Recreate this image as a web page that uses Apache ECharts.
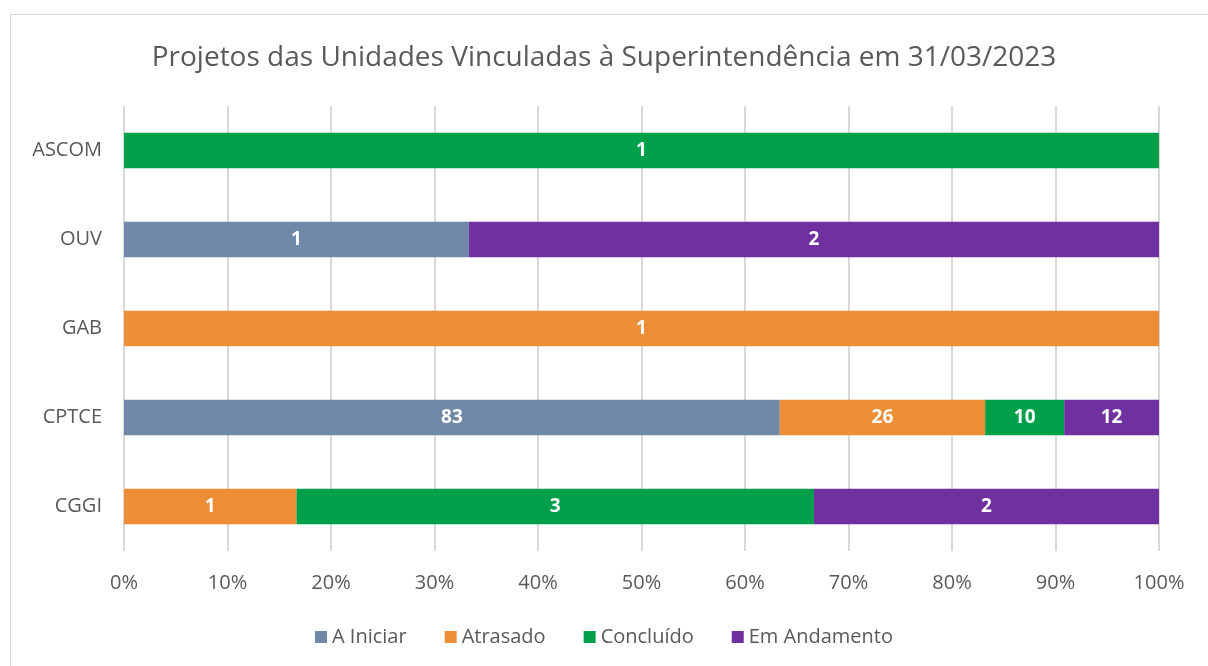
<!DOCTYPE html>
<html>
<head>
<meta charset="utf-8">
<script src="https://cdn.jsdelivr.net/npm/echarts@6/dist/echarts.min.js"></script>
<style>
  html, body { margin: 0; padding: 0; background: #fff; }
  #chart { width: 1208px; height: 666px; }
</style>
</head>
<body>
<div id="chart"></div>
<script>
// categories listed bottom -> top (ECharts category axis order)
const units = ["CGGI", "CPTCE", "GAB", "OUV", "ASCOM"];
const statusNames = ["A Iniciar", "Atrasado", "Concluído", "Em Andamento"];
const aIniciar = [0, 83, 0, 1, 0];
const atrasado = [1, 26, 1, 0, 0];
const concluido = [3, 10, 0, 0, 1];
const emAndamento = [2, 12, 0, 2, 0];
const colors = ["#7189A8", "#ED8E37", "#00A04B", "#7030A0"];
const xTicks = [0, 10, 20, 30, 40, 50, 60, 70, 80, 90, 100];

const raw = [aIniciar, atrasado, concluido, emAndamento];
const totals = units.map((u, i) => raw.reduce((s, arr) => s + arr[i], 0));

const fontFam = "'Open Sans', 'Noto Sans', sans-serif";

const series = statusNames.map((name, k) => ({
  name: name,
  type: "bar",
  stack: "total",
  barCategoryGap: "60%",
  itemStyle: { color: colors[k] },
  label: {
    show: true,
    position: "inside",
    color: "#fff",
    fontWeight: "bold",
    fontSize: 19,
    fontFamily: fontFam,
    formatter: (p) => (raw[k][p.dataIndex] > 0 ? String(raw[k][p.dataIndex]) : ""),
  },
  data: raw[k].map((v, i) => (v > 0 ? (v / totals[i]) * 100 : null)),
}));

const chart = echarts.init(document.getElementById("chart"));
chart.setOption({
  animation: false,
  graphic: [
    {
      type: "rect",
      shape: { x: 10.5, y: 14.5, width: 1210, height: 670 },
      style: { fill: "none", stroke: "#d9d9d9", lineWidth: 1 },
      silent: true,
    },
  ],
  title: {
    text: "Projetos das Unidades Vinculadas à Superintendência em 31/03/2023",
    left: "center",
    top: 39,
    textStyle: { color: "#595959", fontSize: 28, fontWeight: "normal", fontFamily: fontFam },
  },
  legend: {
    bottom: 14,
    left: "center",
    itemWidth: 12,
    itemHeight: 12,
    itemGap: 38,
    icon: "rect",
    textStyle: { color: "#595959", fontSize: 20, fontFamily: fontFam },
    data: statusNames,
  },
  grid: { left: 124, right: 49, top: 106, bottom: 115 },
  xAxis: {
    type: "value",
    min: 0,
    max: 100,
    interval: 10,
    axisLine: { show: false },
    axisTick: { show: false },
    axisLabel: {
      color: "#595959",
      fontSize: 20,
      margin: 22,
      fontFamily: fontFam,
      formatter: (v) => (xTicks.includes(v) ? v + "%" : ""),
    },
    splitLine: { lineStyle: { color: "#d9d9d9", width: 2 } },
  },
  yAxis: {
    type: "category",
    data: units,
    axisLine: { show: false },
    axisTick: { show: false },
    axisLabel: { color: "#595959", fontSize: 20, margin: 22, fontFamily: fontFam },
  },
  series: series,
});
</script>
</body>
</html>
